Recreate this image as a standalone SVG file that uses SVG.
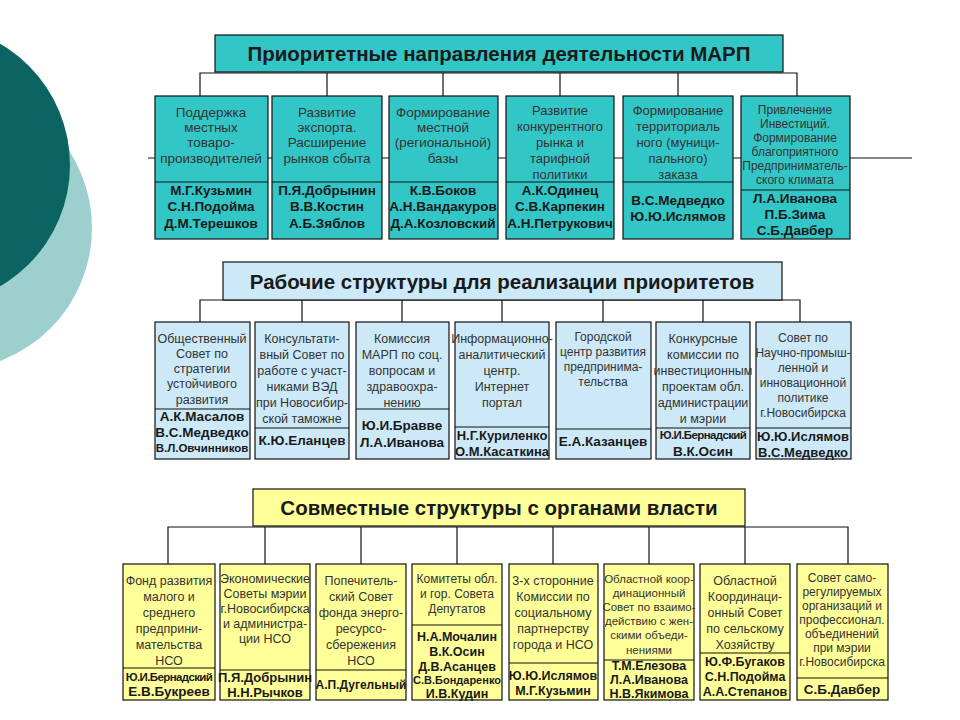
<svg xmlns="http://www.w3.org/2000/svg" width="960" height="720" viewBox="0 0 960 720">
<style>
text{font-family:"Liberation Sans",Arial,sans-serif;text-anchor:middle;fill:#1a1a1a}
.t{font-size:13.5px;fill:#333}
.n{font-size:13.5px;font-weight:bold}
.s{font-size:11.5px;font-weight:bold}
.h{font-size:20.5px;font-weight:bold}
.b1{fill:#33C6C6;stroke:#111;stroke-width:1.2}
.b2{fill:#CDE9F8;stroke:#111;stroke-width:1.2}
.b3{fill:#FFFF99;stroke:#111;stroke-width:1.2}
.l{stroke:#111;stroke-width:1.2;fill:none}
</style>
<rect width="960" height="720" fill="#fff"/>
<circle cx="-50" cy="228" r="142" fill="#9ECFCF"/>
<circle cx="-70" cy="165" r="140" fill="#0B6461"/>
<g id="connectors" class="l">
<path d="M200,96V73H797V96M327,73V96M443,73V96M560,73V96M678,73V96M148,158H912"/>
<path d="M200,322V300H800V322M302,300V322M402,300V322M502,300V322M603,300V322M703,300V322"/>
<path d="M168,564V527H848V564M265,527V564M361,527V564M457,527V564M553,527V564M649,527V564M745,527V564"/>
</g>
<g id="h1"><rect class="b1" x="215" y="35" width="568" height="37"/><text class="h" x="499" y="61">Приоритетные направления деятельности МАРП</text></g>
<g id="h2"><rect class="b2" x="223" y="262" width="559" height="38"/><text class="h" x="502" y="289">Рабочие структуры для реализации приоритетов</text></g>
<g id="h3"><rect class="b3" x="253" y="489" width="492" height="37"/><text class="h" x="499" y="515">Совместные структуры с органами власти</text></g>

<g id="p1"><rect class="b1" x="155" y="96" width="113" height="143"/><path class="l" d="M155,182H268"/>
<text class="t"><tspan x="211" y="117">Поддержка</tspan><tspan x="211" y="132">местных</tspan><tspan x="211" y="147">товаро-</tspan><tspan x="211" y="163">производителей</tspan></text>
<text class="n"><tspan x="211" y="195">М.Г.Кузьмин</tspan><tspan x="211" y="211">С.Н.Подойма</tspan><tspan x="211" y="228">Д.М.Терешков</tspan></text></g>
<g id="p2"><rect class="b1" x="272" y="96" width="110" height="143"/><path class="l" d="M272,182H382"/>
<text class="t"><tspan x="327" y="117">Развитие</tspan><tspan x="327" y="132">экспорта.</tspan><tspan x="327" y="147">Расширение</tspan><tspan x="327" y="163">рынков сбыта</tspan></text>
<text class="n"><tspan x="327" y="195">П.Я.Добрынин</tspan><tspan x="327" y="211">В.В.Костин</tspan><tspan x="327" y="228">А.Б.Зяблов</tspan></text></g>
<g id="p3"><rect class="b1" x="389" y="96" width="109" height="143"/><path class="l" d="M389,182H498"/>
<text class="t"><tspan x="443" y="117">Формирование</tspan><tspan x="443" y="132">местной</tspan><tspan x="443" y="147">(региональной)</tspan><tspan x="443" y="163">базы</tspan></text>
<text class="n"><tspan x="443" y="195">К.В.Боков</tspan><tspan x="443" y="211">А.Н.Вандакуров</tspan><tspan x="443" y="228">Д.А.Козловский</tspan></text></g>
<g id="p4"><rect class="b1" x="506" y="96" width="108" height="143"/><path class="l" d="M506,182H614"/>
<text class="t" style="font-size:13px"><tspan x="560" y="115">Развитие</tspan><tspan x="560" y="131">конкурентного</tspan><tspan x="560" y="147">рынка и</tspan><tspan x="560" y="163">тарифной</tspan><tspan x="560" y="179">политики</tspan></text>
<text class="n"><tspan x="560" y="195">А.К.Одинец</tspan><tspan x="560" y="211">С.В.Карпекин</tspan><tspan x="560" y="228">А.Н.Петрукович</tspan></text></g>
<g id="p5"><rect class="b1" x="623" y="96" width="110" height="143"/><path class="l" d="M623,182H733"/>
<text class="t" style="font-size:13px"><tspan x="678" y="115">Формирование</tspan><tspan x="678" y="131">территориаль</tspan><tspan x="678" y="147">ного (муници-</tspan><tspan x="678" y="163">пального)</tspan><tspan x="678" y="179">заказа</tspan></text>
<text class="n"><tspan x="678" y="205">В.С.Медведко</tspan><tspan x="678" y="221">Ю.Ю.Ислямов</tspan></text></g>
<g id="p6"><rect class="b1" x="741" y="96" width="109" height="143"/><path class="l" d="M741,190H850"/>
<text class="t" style="font-size:12px"><tspan x="795" y="114">Привлечение</tspan><tspan x="795" y="128">Инвестиций.</tspan><tspan x="795" y="142">Формирование</tspan><tspan x="795" y="156">благоприятного</tspan><tspan x="795" y="170">Предприниматель-</tspan><tspan x="795" y="184">ского климата</tspan></text>
<text class="n"><tspan x="795" y="203">Л.А.Иванова</tspan><tspan x="795" y="219">П.Б.Зима</tspan><tspan x="795" y="235">С.Б.Давбер</tspan></text></g>

<g id="r1"><rect class="b2" x="155" y="322" width="95" height="137"/><path class="l" d="M155,409H250"/>
<text class="t" style="font-size:12.5px"><tspan x="202" y="343">Общественный</tspan><tspan x="202" y="358">Совет по</tspan><tspan x="202" y="373">стратегии</tspan><tspan x="202" y="388">устойчивого</tspan><tspan x="202" y="404">развития</tspan></text>
<text class="n"><tspan x="202" y="421">А.К.Масалов</tspan><tspan x="202" y="437">В.С.Медведко</tspan></text><text class="s" x="202" y="452">В.Л.Овчинников</text></g>
<g id="r2"><rect class="b2" x="255" y="322" width="94" height="137"/><path class="l" d="M255,428H349"/>
<text class="t" style="font-size:12.5px"><tspan x="302" y="343">Консультати-</tspan><tspan x="302" y="359">вный Совет по</tspan><tspan x="302" y="375">работе с участ-</tspan><tspan x="302" y="391">никами ВЭД</tspan><tspan x="302" y="407">при Новосибир-</tspan><tspan x="302" y="423">ской таможне</tspan></text>
<text class="n" x="302" y="445">К.Ю.Еланцев</text></g>
<g id="r3"><rect class="b2" x="356" y="322" width="93" height="137"/><path class="l" d="M356,409H449"/>
<text class="t" style="font-size:12.5px"><tspan x="402" y="343">Комиссия</tspan><tspan x="402" y="359">МАРП по соц.</tspan><tspan x="402" y="375">вопросам и</tspan><tspan x="402" y="391">здравоохра-</tspan><tspan x="402" y="407">нению</tspan></text>
<text class="n"><tspan x="402" y="430">Ю.И.Бравве</tspan><tspan x="402" y="447">Л.А.Иванова</tspan></text></g>
<g id="r4"><rect class="b2" x="455" y="322" width="94" height="137"/><path class="l" d="M455,427H549"/>
<text class="t" style="font-size:12.5px"><tspan x="502" y="343">Информационно-</tspan><tspan x="502" y="359">аналитический</tspan><tspan x="502" y="375">центр.</tspan><tspan x="502" y="391">Интернет</tspan><tspan x="502" y="407">портал</tspan></text>
<text class="n" style="font-size:13px"><tspan x="502" y="440">Н.Г.Куриленко</tspan><tspan x="502" y="456">О.М.Касаткина</tspan></text></g>
<g id="r5"><rect class="b2" x="556" y="322" width="95" height="137"/><path class="l" d="M556,429H651"/>
<text class="t" style="font-size:12px"><tspan x="603" y="341">Городской</tspan><tspan x="603" y="356">центр развития</tspan><tspan x="603" y="371">предпринима-</tspan><tspan x="603" y="386">тельства</tspan></text>
<text class="n" x="603" y="446">Е.А.Казанцев</text></g>
<g id="r6"><rect class="b2" x="656" y="322" width="94" height="137"/><path class="l" d="M656,428H750"/>
<text class="t" style="font-size:12.5px"><tspan x="703" y="343">Конкурсные</tspan><tspan x="703" y="359">комиссии по</tspan><tspan x="703" y="375">инвестиционным</tspan><tspan x="703" y="391">проектам обл.</tspan><tspan x="703" y="407">администрации</tspan><tspan x="703" y="423">и мэрии</tspan></text>
<text class="s" x="703" y="439" style="letter-spacing:-0.6px">Ю.И.Бернадский</text><text class="n" x="703" y="456">В.К.Осин</text></g>
<g id="r7"><rect class="b2" x="756" y="322" width="95" height="137"/><path class="l" d="M756,428H851"/>
<text class="t" style="font-size:12px"><tspan x="803" y="342">Совет по</tspan><tspan x="803" y="357">Научно-промыш-</tspan><tspan x="803" y="372">ленной и</tspan><tspan x="803" y="387">инновационной</tspan><tspan x="803" y="402">политике</tspan><tspan x="803" y="417">г.Новосибирска</tspan></text>
<text class="n" style="font-size:13px"><tspan x="803" y="441">Ю.Ю.Ислямов</tspan><tspan x="803" y="457">В.С.Медведко</tspan></text></g>

<g id="s1"><rect class="b3" x="123" y="564" width="92" height="136"/><path class="l" d="M123,668H215"/>
<text class="t" style="font-size:12.5px"><tspan x="169" y="585">Фонд развития</tspan><tspan x="169" y="601">малого и</tspan><tspan x="169" y="617">среднего</tspan><tspan x="169" y="633">предприни-</tspan><tspan x="169" y="649">мательства</tspan><tspan x="169" y="665">НСО</tspan></text>
<text class="s" x="169" y="681" style="letter-spacing:-0.6px">Ю.И.Бернадский</text><text class="n" x="169" y="696">Е.В.Букреев</text></g>
<g id="s2"><rect class="b3" x="220" y="564" width="90" height="136"/><path class="l" d="M220,670H310"/>
<text class="t" style="font-size:12.5px"><tspan x="265" y="583">Экономические</tspan><tspan x="265" y="598">Советы мэрии</tspan><tspan x="265" y="613">г.Новосибирска</tspan><tspan x="265" y="628">и администра-</tspan><tspan x="265" y="643">ции НСО</tspan></text>
<text class="n" style="font-size:13px"><tspan x="265" y="682">П.Я.Добрынин</tspan><tspan x="265" y="697">Н.Н.Рычков</tspan></text></g>
<g id="s3"><rect class="b3" x="316" y="564" width="90" height="136"/><path class="l" d="M316,670H406"/>
<text class="t" style="font-size:12.5px"><tspan x="361" y="585">Попечитель-</tspan><tspan x="361" y="601">ский Совет</tspan><tspan x="361" y="617">фонда энерго-</tspan><tspan x="361" y="633">ресурсо-</tspan><tspan x="361" y="649">сбережения</tspan><tspan x="361" y="665">НСО</tspan></text>
<text class="n" x="361" y="689" style="font-size:12px">А.П.Дугельный</text></g>
<g id="s4"><rect class="b3" x="412" y="564" width="90" height="136"/><path class="l" d="M412,625H502"/>
<text class="t" style="font-size:12px"><tspan x="457" y="583">Комитеты обл.</tspan><tspan x="457" y="598">и гор. Совета</tspan><tspan x="457" y="613">Депутатов</tspan></text>
<text class="n" style="font-size:12.5px"><tspan x="457" y="641">Н.А.Мочалин</tspan><tspan x="457" y="656">В.К.Осин</tspan><tspan x="457" y="671">Д.В.Асанцев</tspan></text><text class="s" x="457" y="684" style="font-size:11px">С.В.Бондаренко</text><text class="n" x="457" y="698" style="font-size:12.5px">И.В.Кудин</text></g>
<g id="s5"><rect class="b3" x="509" y="564" width="89" height="136"/><path class="l" d="M509,663H598"/>
<text class="t" style="font-size:12.5px"><tspan x="553" y="585">3-х сторонние</tspan><tspan x="553" y="601">Комиссии по</tspan><tspan x="553" y="617">социальному</tspan><tspan x="553" y="633">партнерству</tspan><tspan x="553" y="649">города и НСО</tspan></text>
<text class="n" style="font-size:12.5px"><tspan x="553" y="680">Ю.Ю.Ислямов</tspan><tspan x="553" y="695">М.Г.Кузьмин</tspan></text></g>
<g id="s6"><rect class="b3" x="604" y="564" width="90" height="136"/><path class="l" d="M604,660H694"/>
<text class="t" style="font-size:11.5px"><tspan x="649" y="583">Областной коор-</tspan><tspan x="649" y="597">динационный</tspan><tspan x="649" y="611">Совет по взаимо-</tspan><tspan x="649" y="625">действию с жен-</tspan><tspan x="649" y="639">скими объеди-</tspan><tspan x="649" y="654">нениями</tspan></text>
<text class="n" style="font-size:12.5px"><tspan x="649" y="670">Т.М.Елезова</tspan><tspan x="649" y="684">Л.А.Иванова</tspan><tspan x="649" y="698">Н.В.Якимова</tspan></text></g>
<g id="s7"><rect class="b3" x="700" y="564" width="90" height="136"/><path class="l" d="M700,653H790"/>
<text class="t" style="font-size:12.5px"><tspan x="745" y="585">Областной</tspan><tspan x="745" y="601">Координаци-</tspan><tspan x="745" y="617">онный Совет</tspan><tspan x="745" y="633">по сельскому</tspan><tspan x="745" y="649">Хозяйству</tspan></text>
<text class="n" style="font-size:12.5px"><tspan x="745" y="666">Ю.Ф.Бугаков</tspan><tspan x="745" y="681">С.Н.Подойма</tspan><tspan x="745" y="696">А.А.Степанов</tspan></text></g>
<g id="s8"><rect class="b3" x="797" y="564" width="91" height="136"/><path class="l" d="M797,678H888"/>
<text class="t" style="font-size:12px"><tspan x="842" y="582">Совет само-</tspan><tspan x="842" y="596">регулируемых</tspan><tspan x="842" y="610">организаций и</tspan><tspan x="842" y="624">профессионал.</tspan><tspan x="842" y="638">объединений</tspan><tspan x="842" y="652">при мэрии</tspan><tspan x="842" y="666">г.Новосибирска</tspan></text>
<text class="n" x="842" y="694">С.Б.Давбер</text></g>
</svg>
